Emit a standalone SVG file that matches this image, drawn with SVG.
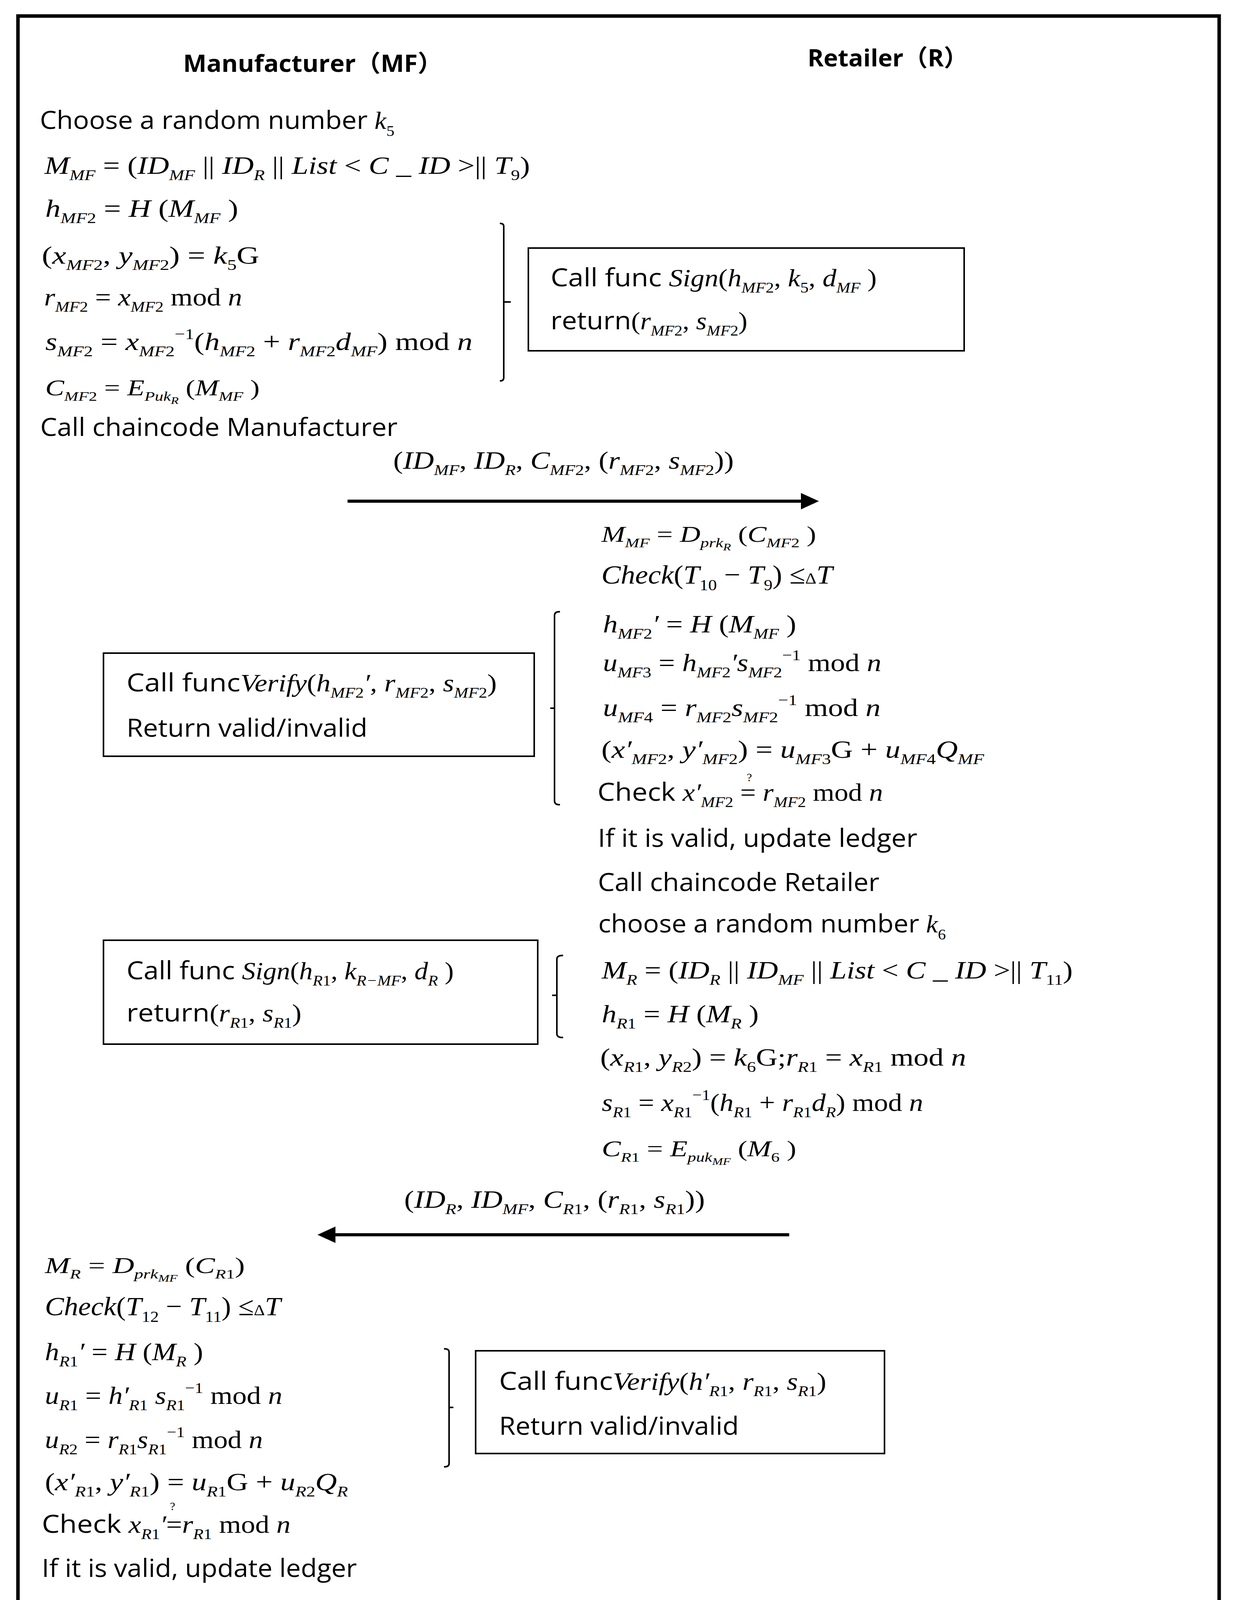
<svg xmlns="http://www.w3.org/2000/svg" width="3160" height="4228" viewBox="0 0 3160 4228">
<defs>
<style>
.fr{fill:none;stroke:#000;stroke-width:9}
.bx{fill:none;stroke:#000;stroke-width:4}
.br{fill:none;stroke:#000;stroke-width:4;stroke-linecap:square}
.ar{stroke:#000;stroke-width:8}
.cal{font-family:"Open Sans","Noto Sans",sans-serif;font-size:64px;fill:#000}
.hd{font-family:"Open Sans","Noto Sans","Noto Sans CJK SC",sans-serif;font-size:60px;font-weight:bold;fill:#000}
.m{font-family:"Liberation Serif","Times New Roman",serif;font-size:64px;fill:#000}
.ms{font-family:"Liberation Serif","Times New Roman",serif;font-size:56px;fill:#000}
.mt{font-family:"Liberation Serif","Times New Roman",serif}
.i{font-style:italic}
.n{font-style:normal}
.s{font-size:0.6em}
.ss{font-size:0.45em}
.q{font-family:"Liberation Serif",serif;font-size:30px;fill:#000}
</style>
<marker id="ah" markerWidth="46" markerHeight="42" refX="4" refY="21" orient="auto" markerUnits="userSpaceOnUse"><path d="M0,0 L46,21 L0,42 Z" fill="#000"/></marker>
</defs>
<rect width="3160" height="4228" fill="#fff"/>
<rect id="frame" class="fr" x="46" y="41" width="3076" height="4130"/>

<g id="headers">
<text class="hd" x="469" y="184" textLength="664" lengthAdjust="spacingAndGlyphs">Manufacturer（MF）</text>
<text class="hd" x="2068" y="170" textLength="411" lengthAdjust="spacingAndGlyphs">Retailer（R）</text>
</g>

<g id="mf-sign-steps">
<text class="cal" x="102" y="330" textLength="908" lengthAdjust="spacingAndGlyphs">Choose a random number <tspan class="mt i">k</tspan><tspan class="mt s" dy="18">5</tspan></text>
<text class="m" x="114" y="445" textLength="1243" lengthAdjust="spacingAndGlyphs"><tspan class="i">M</tspan><tspan class="s i" dy="16">MF</tspan><tspan dy="-16"> = (</tspan><tspan class="i">ID</tspan><tspan class="s i" dy="16">MF</tspan><tspan dy="-16"> || </tspan><tspan class="i">ID</tspan><tspan class="s i" dy="16">R</tspan><tspan dy="-16"> || </tspan><tspan class="i">List</tspan><tspan> &lt; </tspan><tspan class="i">C</tspan><tspan> _ </tspan><tspan class="i">ID</tspan><tspan> &gt;|| </tspan><tspan class="i">T</tspan><tspan class="s" dy="16">9</tspan><tspan dy="-16">)</tspan></text>
<text class="m" x="116" y="555" textLength="494" lengthAdjust="spacingAndGlyphs"><tspan class="i">h</tspan><tspan class="s i" dy="16">MF</tspan><tspan class="s">2</tspan><tspan dy="-16"> = </tspan><tspan class="i">H</tspan><tspan> (</tspan><tspan class="i">M</tspan><tspan class="s i" dy="16">MF</tspan><tspan dy="-16"> )</tspan></text>
<text class="m" x="107" y="675" textLength="557" lengthAdjust="spacingAndGlyphs"><tspan>(</tspan><tspan class="i">x</tspan><tspan class="s i" dy="16">MF</tspan><tspan class="s">2</tspan><tspan dy="-16">, </tspan><tspan class="i">y</tspan><tspan class="s i" dy="16">MF</tspan><tspan class="s">2</tspan><tspan dy="-16">) = </tspan><tspan class="i">k</tspan><tspan class="s" dy="16">5</tspan><tspan dy="-16">G</tspan></text>
<text class="m" x="113" y="782" textLength="507" lengthAdjust="spacingAndGlyphs"><tspan class="i">r</tspan><tspan class="s i" dy="16">MF</tspan><tspan class="s">2</tspan><tspan dy="-16"> = </tspan><tspan class="i">x</tspan><tspan class="s i" dy="16">MF</tspan><tspan class="s">2</tspan><tspan dy="-16"> mod </tspan><tspan class="i">n</tspan></text>
<text class="m" x="116" y="896" textLength="1094" lengthAdjust="spacingAndGlyphs"><tspan class="i">s</tspan><tspan class="s i" dy="16">MF</tspan><tspan class="s">2</tspan><tspan dy="-16"> = </tspan><tspan class="i">x</tspan><tspan class="s i" dy="16">MF</tspan><tspan class="s">2</tspan><tspan class="s" dy="-44">−1</tspan><tspan dy="28">(</tspan><tspan class="i">h</tspan><tspan class="s i" dy="16">MF</tspan><tspan class="s">2</tspan><tspan dy="-16"> + </tspan><tspan class="i">r</tspan><tspan class="s i" dy="16">MF</tspan><tspan class="s">2</tspan><tspan class="i" dy="-16">d</tspan><tspan class="s i" dy="16">MF</tspan><tspan dy="-16">) mod </tspan><tspan class="i">n</tspan></text>
<text class="ms" x="116" y="1012" textLength="549" lengthAdjust="spacingAndGlyphs"><tspan class="i">C</tspan><tspan class="s i" dy="14">MF</tspan><tspan class="s">2</tspan><tspan dy="-14"> = </tspan><tspan class="i">E</tspan><tspan class="s i" dy="14">Puk</tspan><tspan class="ss i" dy="8">R</tspan><tspan dy="-22"> (</tspan><tspan class="i">M</tspan><tspan class="s i" dy="14">MF</tspan><tspan dy="-14"> )</tspan></text>
<text class="cal" x="103" y="1116" textLength="915" lengthAdjust="spacingAndGlyphs">Call chaincode Manufacturer</text>
</g>

<g id="box-sign-mf">
<rect class="bx" x="1353" y="635" width="1116" height="263"/>
<text class="cal" x="1410" y="733" textLength="835" lengthAdjust="spacingAndGlyphs">Call func <tspan class="mt i">Sign</tspan><tspan class="mt">(</tspan><tspan class="mt i">h</tspan><tspan class="mt s i" dy="16">MF</tspan><tspan class="mt s">2</tspan><tspan class="mt" dy="-16">, </tspan><tspan class="mt i">k</tspan><tspan class="mt s" dy="16">5</tspan><tspan class="mt" dy="-16">, </tspan><tspan class="mt i">d</tspan><tspan class="mt s i" dy="16">MF</tspan><tspan class="mt" dy="-16"> )</tspan></text>
<text class="cal" x="1410" y="843" textLength="504" lengthAdjust="spacingAndGlyphs">return<tspan class="mt">(</tspan><tspan class="mt i">r</tspan><tspan class="mt s i" dy="16">MF</tspan><tspan class="mt s">2</tspan><tspan class="mt" dy="-16">, </tspan><tspan class="mt i">s</tspan><tspan class="mt s i" dy="16">MF</tspan><tspan class="mt s">2</tspan><tspan class="mt" dy="-16">)</tspan></text>
</g>

<g id="msg-mf-to-r">
<text class="m" x="1007" y="1200" textLength="872" lengthAdjust="spacingAndGlyphs"><tspan>(</tspan><tspan class="i">ID</tspan><tspan class="s i" dy="16">MF</tspan><tspan dy="-16">, </tspan><tspan class="i">ID</tspan><tspan class="s i" dy="16">R</tspan><tspan dy="-16">, </tspan><tspan class="i">C</tspan><tspan class="s i" dy="16">MF</tspan><tspan class="s">2</tspan><tspan dy="-16">, (</tspan><tspan class="i">r</tspan><tspan class="s i" dy="16">MF</tspan><tspan class="s">2</tspan><tspan dy="-16">, </tspan><tspan class="i">s</tspan><tspan class="s i" dy="16">MF</tspan><tspan class="s">2</tspan><tspan dy="-16">))</tspan></text>
</g>

<g id="r-verify-steps">
<text class="ms" x="1540" y="1387" textLength="550" lengthAdjust="spacingAndGlyphs"><tspan class="i">M</tspan><tspan class="s i" dy="14">MF</tspan><tspan dy="-14"> = </tspan><tspan class="i">D</tspan><tspan class="s i" dy="14">prk</tspan><tspan class="ss i" dy="8">R</tspan><tspan dy="-22"> (</tspan><tspan class="i">C</tspan><tspan class="s i" dy="14">MF</tspan><tspan class="s">2</tspan><tspan dy="-14"> )</tspan></text>
<text class="m" x="1540" y="1494" textLength="592" lengthAdjust="spacingAndGlyphs" style="font-size:68px"><tspan class="i">Check</tspan><tspan>(</tspan><tspan class="i">T</tspan><tspan class="s" dy="17">10</tspan><tspan dy="-17"> − </tspan><tspan class="i">T</tspan><tspan class="s" dy="17">9</tspan><tspan dy="-17">) ≤</tspan><tspan class="s">Δ</tspan><tspan class="i">T</tspan></text>
<text class="m" x="1544" y="1619" textLength="495" lengthAdjust="spacingAndGlyphs"><tspan class="i">h</tspan><tspan class="s i" dy="16">MF</tspan><tspan class="s">2</tspan><tspan class="i" dy="-16">′</tspan><tspan> = </tspan><tspan class="i">H</tspan><tspan> (</tspan><tspan class="i">M</tspan><tspan class="s i" dy="16">MF</tspan><tspan dy="-16"> )</tspan></text>
<text class="m" x="1544" y="1718" textLength="713" lengthAdjust="spacingAndGlyphs"><tspan class="i">u</tspan><tspan class="s i" dy="16">MF</tspan><tspan class="s">3</tspan><tspan dy="-16"> = </tspan><tspan class="i">h</tspan><tspan class="s i" dy="16">MF</tspan><tspan class="s">2</tspan><tspan class="i" dy="-16">′s</tspan><tspan class="s i" dy="16">MF</tspan><tspan class="s">2</tspan><tspan class="s" dy="-44">−1</tspan><tspan dy="28"> mod </tspan><tspan class="i">n</tspan></text>
<text class="m" x="1544" y="1833" textLength="711" lengthAdjust="spacingAndGlyphs"><tspan class="i">u</tspan><tspan class="s i" dy="16">MF</tspan><tspan class="s">4</tspan><tspan dy="-16"> = </tspan><tspan class="i">r</tspan><tspan class="s i" dy="16">MF</tspan><tspan class="s">2</tspan><tspan class="i" dy="-16">s</tspan><tspan class="s i" dy="16">MF</tspan><tspan class="s">2</tspan><tspan class="s" dy="-44">−1</tspan><tspan dy="28"> mod </tspan><tspan class="i">n</tspan></text>
<text class="m" x="1540" y="1940" textLength="980" lengthAdjust="spacingAndGlyphs"><tspan>(</tspan><tspan class="i">x′</tspan><tspan class="s i" dy="16">MF</tspan><tspan class="s">2</tspan><tspan dy="-16">, </tspan><tspan class="i">y′</tspan><tspan class="s i" dy="16">MF</tspan><tspan class="s">2</tspan><tspan dy="-16">) = </tspan><tspan class="i">u</tspan><tspan class="s i" dy="16">MF</tspan><tspan class="s">3</tspan><tspan dy="-16">G + </tspan><tspan class="i">u</tspan><tspan class="s i" dy="16">MF</tspan><tspan class="s">4</tspan><tspan class="i" dy="-16">Q</tspan><tspan class="s i" dy="16">MF</tspan></text>
<text class="cal" x="1530" y="2050" textLength="731" lengthAdjust="spacingAndGlyphs">Check <tspan class="mt i">x′</tspan><tspan class="mt s i" dy="16">MF</tspan><tspan class="mt s">2</tspan><tspan class="mt" dy="-16"> = </tspan><tspan class="mt i">r</tspan><tspan class="mt s i" dy="16">MF</tspan><tspan class="mt s">2</tspan><tspan class="mt" dy="-16"> mod </tspan><tspan class="mt i">n</tspan></text>
<text class="q" x="1919" y="2000" text-anchor="middle">?</text>
<text class="cal" x="1531" y="2168" textLength="818" lengthAdjust="spacingAndGlyphs">If it is valid, update ledger</text>
<text class="cal" x="1531" y="2281" textLength="721" lengthAdjust="spacingAndGlyphs">Call chaincode Retailer</text>
</g>

<g id="box-verify-mf">
<rect class="bx" x="265" y="1672" width="1103" height="264"/>
<text class="cal" x="324" y="1770" textLength="948" lengthAdjust="spacingAndGlyphs">Call func<tspan class="mt i">Verify</tspan><tspan class="mt">(</tspan><tspan class="mt i">h</tspan><tspan class="mt s i" dy="16">MF</tspan><tspan class="mt s">2</tspan><tspan class="mt i" dy="-16">′, </tspan><tspan class="mt i">r</tspan><tspan class="mt s i" dy="16">MF</tspan><tspan class="mt s">2</tspan><tspan class="mt" dy="-16">, </tspan><tspan class="mt i">s</tspan><tspan class="mt s i" dy="16">MF</tspan><tspan class="mt s">2</tspan><tspan class="mt" dy="-16">)</tspan></text>
<text class="cal" x="324" y="1886" textLength="617" lengthAdjust="spacingAndGlyphs">Return valid/invalid</text>
</g>

<g id="r-sign-steps">
<text class="cal" x="1532" y="2387" textLength="890" lengthAdjust="spacingAndGlyphs">choose a random number <tspan class="mt i">k</tspan><tspan class="mt s" dy="18">6</tspan></text>
<text class="m" x="1541" y="2505" textLength="1206" lengthAdjust="spacingAndGlyphs"><tspan class="i">M</tspan><tspan class="s i" dy="16">R</tspan><tspan dy="-16"> = (</tspan><tspan class="i">ID</tspan><tspan class="s i" dy="16">R</tspan><tspan dy="-16"> || </tspan><tspan class="i">ID</tspan><tspan class="s i" dy="16">MF</tspan><tspan dy="-16"> || </tspan><tspan class="i">List</tspan><tspan> &lt; </tspan><tspan class="i">C</tspan><tspan> _ </tspan><tspan class="i">ID</tspan><tspan> &gt;|| </tspan><tspan class="i">T</tspan><tspan class="s" dy="16">11</tspan><tspan dy="-16">)</tspan></text>
<text class="m" x="1541" y="2617" textLength="402" lengthAdjust="spacingAndGlyphs"><tspan class="i">h</tspan><tspan class="s i" dy="16">R</tspan><tspan class="s">1</tspan><tspan dy="-16"> = </tspan><tspan class="i">H</tspan><tspan> (</tspan><tspan class="i">M</tspan><tspan class="s i" dy="16">R</tspan><tspan dy="-16"> )</tspan></text>
<text class="m" x="1537" y="2728" textLength="937" lengthAdjust="spacingAndGlyphs"><tspan>(</tspan><tspan class="i">x</tspan><tspan class="s i" dy="16">R</tspan><tspan class="s">1</tspan><tspan dy="-16">, </tspan><tspan class="i">y</tspan><tspan class="s i" dy="16">R</tspan><tspan class="s">2</tspan><tspan dy="-16">) = </tspan><tspan class="i">k</tspan><tspan class="s" dy="16">6</tspan><tspan dy="-16">G;</tspan><tspan class="i">r</tspan><tspan class="s i" dy="16">R</tspan><tspan class="s">1</tspan><tspan dy="-16"> = </tspan><tspan class="i">x</tspan><tspan class="s i" dy="16">R</tspan><tspan class="s">1</tspan><tspan dy="-16"> mod </tspan><tspan class="i">n</tspan></text>
<text class="m" x="1541" y="2844" textLength="823" lengthAdjust="spacingAndGlyphs"><tspan class="i">s</tspan><tspan class="s i" dy="16">R</tspan><tspan class="s">1</tspan><tspan dy="-16"> = </tspan><tspan class="i">x</tspan><tspan class="s i" dy="16">R</tspan><tspan class="s">1</tspan><tspan class="s" dy="-44">−1</tspan><tspan dy="28">(</tspan><tspan class="i">h</tspan><tspan class="s i" dy="16">R</tspan><tspan class="s">1</tspan><tspan dy="-16"> + </tspan><tspan class="i">r</tspan><tspan class="s i" dy="16">R</tspan><tspan class="s">1</tspan><tspan class="i" dy="-16">d</tspan><tspan class="s i" dy="16">R</tspan><tspan dy="-16">) mod </tspan><tspan class="i">n</tspan></text>
<text class="ms" x="1541" y="2960" textLength="498" lengthAdjust="spacingAndGlyphs"><tspan class="i">C</tspan><tspan class="s i" dy="14">R</tspan><tspan class="s">1</tspan><tspan dy="-14"> = </tspan><tspan class="i">E</tspan><tspan class="s i" dy="14">puk</tspan><tspan class="ss i" dy="8">MF</tspan><tspan dy="-22"> (</tspan><tspan class="i">M</tspan><tspan class="s" dy="14">6</tspan><tspan dy="-14"> )</tspan></text>
</g>

<g id="box-sign-r">
<rect class="bx" x="265" y="2407" width="1112" height="266"/>
<text class="cal" x="324" y="2507" textLength="838" lengthAdjust="spacingAndGlyphs">Call func <tspan class="mt i">Sign</tspan><tspan class="mt">(</tspan><tspan class="mt i">h</tspan><tspan class="mt s i" dy="16">R</tspan><tspan class="mt s">1</tspan><tspan class="mt" dy="-16">, </tspan><tspan class="mt i">k</tspan><tspan class="mt s i" dy="16">R−MF</tspan><tspan class="mt" dy="-16">, </tspan><tspan class="mt i">d</tspan><tspan class="mt s i" dy="16">R</tspan><tspan class="mt" dy="-16"> )</tspan></text>
<text class="cal" x="324" y="2615" textLength="448" lengthAdjust="spacingAndGlyphs">return<tspan class="mt">(</tspan><tspan class="mt i">r</tspan><tspan class="mt s i" dy="16">R</tspan><tspan class="mt s">1</tspan><tspan class="mt" dy="-16">, </tspan><tspan class="mt i">s</tspan><tspan class="mt s i" dy="16">R</tspan><tspan class="mt s">1</tspan><tspan class="mt" dy="-16">)</tspan></text>
</g>

<g id="msg-r-to-mf">
<text class="m" x="1035" y="3092" textLength="770" lengthAdjust="spacingAndGlyphs"><tspan>(</tspan><tspan class="i">ID</tspan><tspan class="s i" dy="16">R</tspan><tspan dy="-16">, </tspan><tspan class="i">ID</tspan><tspan class="s i" dy="16">MF</tspan><tspan dy="-16">, </tspan><tspan class="i">C</tspan><tspan class="s i" dy="16">R</tspan><tspan class="s">1</tspan><tspan dy="-16">, (</tspan><tspan class="i">r</tspan><tspan class="s i" dy="16">R</tspan><tspan class="s">1</tspan><tspan dy="-16">, </tspan><tspan class="i">s</tspan><tspan class="s i" dy="16">R</tspan><tspan class="s">1</tspan><tspan dy="-16">))</tspan></text>
</g>

<g id="mf-verify-steps">
<text class="ms" x="115" y="3259" textLength="512" lengthAdjust="spacingAndGlyphs"><tspan class="i">M</tspan><tspan class="s i" dy="14">R</tspan><tspan dy="-14"> = </tspan><tspan class="i">D</tspan><tspan class="s i" dy="14">prk</tspan><tspan class="ss i" dy="8">MF</tspan><tspan dy="-22"> (</tspan><tspan class="i">C</tspan><tspan class="s i" dy="14">R</tspan><tspan class="s">1</tspan><tspan dy="-14">)</tspan></text>
<text class="m" x="115" y="3367" textLength="604" lengthAdjust="spacingAndGlyphs" style="font-size:68px"><tspan class="i">Check</tspan><tspan>(</tspan><tspan class="i">T</tspan><tspan class="s" dy="17">12</tspan><tspan dy="-17"> − </tspan><tspan class="i">T</tspan><tspan class="s" dy="17">11</tspan><tspan dy="-17">) ≤</tspan><tspan class="s">Δ</tspan><tspan class="i">T</tspan></text>
<text class="m" x="115" y="3482" textLength="405" lengthAdjust="spacingAndGlyphs"><tspan class="i">h</tspan><tspan class="s i" dy="16">R</tspan><tspan class="s">1</tspan><tspan class="i" dy="-16">′</tspan><tspan> = </tspan><tspan class="i">H</tspan><tspan> (</tspan><tspan class="i">M</tspan><tspan class="s i" dy="16">R</tspan><tspan dy="-16"> )</tspan></text>
<text class="m" x="115" y="3594" textLength="608" lengthAdjust="spacingAndGlyphs"><tspan class="i">u</tspan><tspan class="s i" dy="16">R</tspan><tspan class="s">1</tspan><tspan dy="-16"> = </tspan><tspan class="i">h′</tspan><tspan class="s i" dy="16">R</tspan><tspan class="s">1</tspan><tspan class="i" dy="-16"> s</tspan><tspan class="s i" dy="16">R</tspan><tspan class="s">1</tspan><tspan class="s" dy="-44">−1</tspan><tspan dy="28"> mod </tspan><tspan class="i">n</tspan></text>
<text class="m" x="115" y="3707" textLength="558" lengthAdjust="spacingAndGlyphs"><tspan class="i">u</tspan><tspan class="s i" dy="16">R</tspan><tspan class="s">2</tspan><tspan dy="-16"> = </tspan><tspan class="i">r</tspan><tspan class="s i" dy="16">R</tspan><tspan class="s">1</tspan><tspan class="i" dy="-16">s</tspan><tspan class="s i" dy="16">R</tspan><tspan class="s">1</tspan><tspan class="s" dy="-44">−1</tspan><tspan dy="28"> mod </tspan><tspan class="i">n</tspan></text>
<text class="m" x="115" y="3815" textLength="776" lengthAdjust="spacingAndGlyphs"><tspan>(</tspan><tspan class="i">x′</tspan><tspan class="s i" dy="16">R</tspan><tspan class="s">1</tspan><tspan dy="-16">, </tspan><tspan class="i">y′</tspan><tspan class="s i" dy="16">R</tspan><tspan class="s">1</tspan><tspan dy="-16">) = </tspan><tspan class="i">u</tspan><tspan class="s i" dy="16">R</tspan><tspan class="s">1</tspan><tspan dy="-16">G + </tspan><tspan class="i">u</tspan><tspan class="s i" dy="16">R</tspan><tspan class="s">2</tspan><tspan class="i" dy="-16">Q</tspan><tspan class="s i" dy="16">R</tspan></text>
<text class="q" x="442" y="3866" text-anchor="middle">?</text>
<text class="cal" x="107" y="3924" textLength="637" lengthAdjust="spacingAndGlyphs">Check <tspan class="mt i">x</tspan><tspan class="mt s i" dy="16">R</tspan><tspan class="mt s">1</tspan><tspan class="mt i" dy="-16">′</tspan><tspan class="mt">=</tspan><tspan class="mt i">r</tspan><tspan class="mt s i" dy="16">R</tspan><tspan class="mt s">1</tspan><tspan class="mt" dy="-16"> mod </tspan><tspan class="mt i">n</tspan></text>
<text class="cal" x="107" y="4037" textLength="807" lengthAdjust="spacingAndGlyphs">If it is valid, update ledger</text>
<text class="cal" x="107" y="4150" textLength="910" lengthAdjust="spacingAndGlyphs">Call chaincode Manufacturer</text>
</g>

<g id="box-verify-r">
<rect class="bx" x="1218" y="3458" width="1047" height="263"/>
<text class="cal" x="1278" y="3558" textLength="838" lengthAdjust="spacingAndGlyphs">Call func<tspan class="mt i">Verify</tspan><tspan class="mt">(</tspan><tspan class="mt i">h′</tspan><tspan class="mt s i" dy="16">R</tspan><tspan class="mt s">1</tspan><tspan class="mt" dy="-16">, </tspan><tspan class="mt i">r</tspan><tspan class="mt s i" dy="16">R</tspan><tspan class="mt s">1</tspan><tspan class="mt" dy="-16">, </tspan><tspan class="mt i">s</tspan><tspan class="mt s i" dy="16">R</tspan><tspan class="mt s">1</tspan><tspan class="mt" dy="-16">)</tspan></text>
<text class="cal" x="1278" y="3673" textLength="614" lengthAdjust="spacingAndGlyphs">Return valid/invalid</text>
</g>

<g id="connectors">
<line class="ar" x1="890" y1="1283" x2="2055" y2="1283" marker-end="url(#ah)"/>
<line class="ar" x1="2021" y1="3161" x2="855" y2="3161" marker-end="url(#ah)"/>
<path class="br" d="M1282,572 Q1290,572 1290,580 V966 Q1290,975 1282,975 M1290,773 H1306"/>
<path class="br" d="M1432,1566 Q1420,1566 1420,1576 V2050 Q1420,2060 1432,2060 M1420,1813 H1411"/>
<path class="br" d="M1440,2446 Q1426,2446 1426,2456 V2646 Q1426,2656 1440,2656 M1426,2548 H1416"/>
<path class="br" d="M1139,3453 Q1150,3453 1150,3462 V3746 Q1150,3755 1139,3755 M1150,3603 H1159"/>
</g>
</svg>
